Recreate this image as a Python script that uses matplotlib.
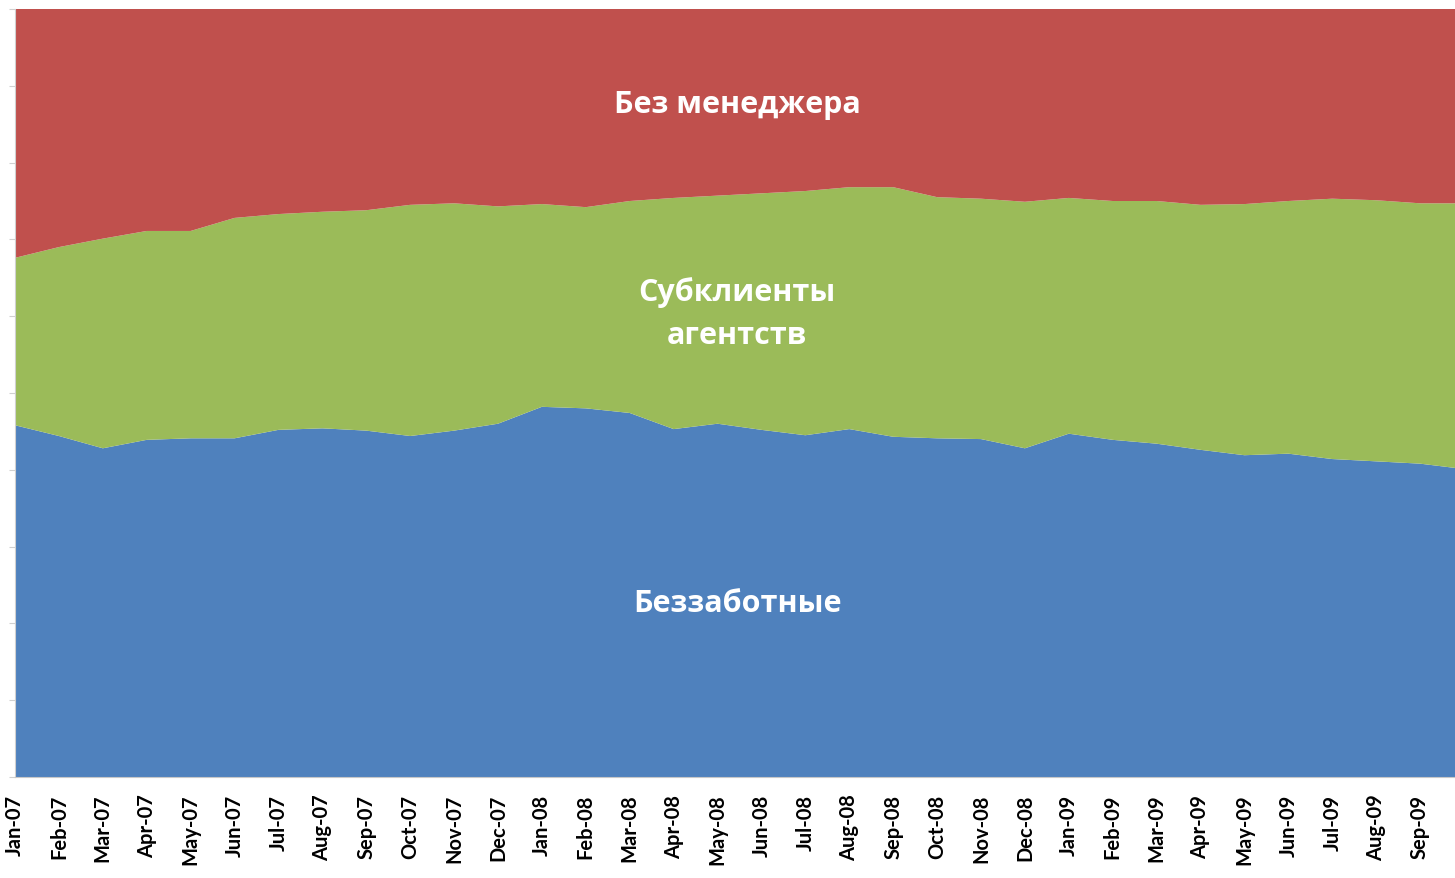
import matplotlib.pyplot as plt
import numpy as np

months = ["Jan-07", "Feb-07", "Mar-07", "Apr-07", "May-07", "Jun-07", "Jul-07", "Aug-07",
          "Sep-07", "Oct-07", "Nov-07", "Dec-07", "Jan-08", "Feb-08", "Mar-08", "Apr-08",
          "May-08", "Jun-08", "Jul-08", "Aug-08", "Sep-08", "Oct-08", "Nov-08", "Dec-08",
          "Jan-09", "Feb-09", "Mar-09", "Apr-09", "May-09", "Jun-09", "Jul-09", "Aug-09",
          "Sep-09", "Oct-09"]

# shares, % of clients
carefree = [45.8, 44.4, 42.8, 43.9, 44.1, 44.1, 45.2, 45.4, 45.1, 44.4, 45.1, 46.0,
            48.2, 48.0, 47.4, 45.3, 46.0, 45.2, 44.5, 45.3, 44.3, 44.1, 44.0, 42.8,
            44.7, 43.9, 43.4, 42.6, 41.9, 42.1, 41.4, 41.1, 40.8, 40.1]
# cumulative top of the green band
green_top = [67.6, 69.0, 70.1, 71.1, 71.1, 72.8, 73.3, 73.6, 73.8, 74.5, 74.7, 74.3,
             74.6, 74.2, 75.0, 75.4, 75.7, 76.0, 76.3, 76.8, 76.8, 75.5, 75.3, 74.9,
             75.4, 75.0, 75.0, 74.5, 74.6, 75.0, 75.3, 75.1, 74.7, 74.7]

subclients = [g - c for g, c in zip(green_top, carefree)]
no_manager = [100 - g for g in green_top]

W, H = 1455, 879
fig = plt.figure(figsize=(W / 100, H / 100), dpi=100)
ax = fig.add_axes([15 / W, (H - 778) / H, (1464 - 15) / W, (778 - 10) / H])

x = np.arange(len(months))
ax.stackplot(x, carefree, subclients, no_manager,
             colors=["#4F81BD", "#9BBB59", "#C0504D"], linewidth=0)

ax.set_xlim(0, len(months) - 1)
ax.set_ylim(0, 100)
ax.set_xticks(x)
ax.set_xticklabels(months, rotation=90, fontweight="bold", fontsize=14.5,
                   family=["Lato", "DejaVu Sans"])
ax.tick_params(axis="x", length=0, pad=12)
ax.set_yticks(np.arange(0, 101, 10))
ax.set_yticklabels([])
ax.tick_params(axis="y", length=4, color="#D0D0D0")

for side in ["top", "right"]:
    ax.spines[side].set_visible(False)
ax.spines["left"].set_color("#D0D0D0")
ax.spines["bottom"].set_color("#C8C8C8")

txt = dict(color="white", fontweight="bold", fontsize=22, ha="center", va="center",
           family=["Open Sans", "DejaVu Sans"])
fig.text(737 / W, 1 - 105 / H, "Без менеджера", **txt)
fig.text(737 / W, 1 - 314 / H, "Субклиенты\nагентств", linespacing=1.6, **txt)
fig.text(737 / W, 1 - 604 / H, "Беззаботные", **txt)

fig.savefig("out.png", dpi=100)
